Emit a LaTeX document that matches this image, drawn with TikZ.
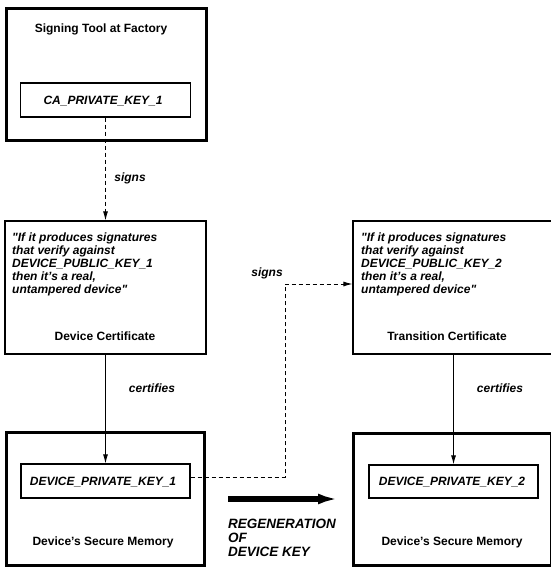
\documentclass[tikz,border=0pt]{standalone}
\usepackage{fontspec}
\setmainfont{Liberation Sans}
\usepackage{tikz}
\usetikzlibrary{arrows.meta}
\tikzset{
  heavybox/.style={draw, line width=3pt, inner sep=0pt},
  lightbox/.style={draw, line width=1.1pt, inner sep=0pt},
  boxtitle/.style={font=\fontsize{12}{12.8}\selectfont\bfseries, inner sep=0pt},
  keyname/.style={font=\fontsize{12}{12.8}\selectfont\bfseries\itshape, inner sep=0pt},
  claim/.style={font=\fontsize{12}{12.8}\selectfont\bfseries\itshape, align=left, anchor=north west, inner sep=0pt},
  linklabel/.style={font=\fontsize{12}{12.8}\selectfont\bfseries\itshape, inner sep=0pt},
  solidlink/.style={line width=1pt, -{Latex[length=9pt,width=5pt]}},
  dashlink/.style={line width=1pt, dash pattern=on 4pt off 3pt, -{Latex[length=9pt,width=5pt]}},
  regenlink/.style={line width=5.5pt, -{Latex[length=20pt,width=11pt]}}
}
\begin{document}
\begin{tikzpicture}[x=1pt,y=-1pt]
\useasboundingbox (0,0) rectangle (550,569);
%%% Draws left column
% draws boxes
\node[heavybox, minimum width=200pt, minimum height=132pt] (factory) at (106.5,74.5){};
\node[lightbox, minimum width=170pt, minimum height=34pt] (cakey) at (105.5,100){};
\node[lightbox, minimum width=201pt, minimum height=133pt] (devcert) at (105.5,287.5){};
\node[heavybox, minimum width=198pt, minimum height=133pt] (devmem) at (105.5,499){};
\node[lightbox, minimum width=169pt, minimum height=34pt] (devkey1) at (105.5,481){};
% labels boxes
\node[boxtitle] (factorytitle) at (101,29) {Signing Tool at Factory};
\node[keyname] (catext) at (103,101) {CA\_PRIVATE\_KEY\_1};
\node[claim] (claim1) at (12,233) {\textquotedbl If it produces signatures\\that verify against\\DEVICE\_PUBLIC\_KEY\_1\\then it's a real,\\untampered device\textquotedbl};
\node[boxtitle] (devcerttitle) at (105,336) {Device Certificate};
\node[keyname] (key1text) at (103,482) {DEVICE\_PRIVATE\_KEY\_1};
\node[boxtitle] (devmemtitle) at (103,542) {Device's Secure Memory};
%%% Draws right column
% draws boxes
\node[lightbox, minimum width=201pt, minimum height=133pt] (transcert) at (453.5,287.5){};
\node[heavybox, minimum width=198pt, minimum height=132pt] (transmem) at (452.5,499.5){};
\node[lightbox, minimum width=169pt, minimum height=33pt] (devkey2) at (453.5,481.5){};
% labels boxes
\node[claim] (claim2) at (361,233) {\textquotedbl If it produces signatures\\that verify against\\DEVICE\_PUBLIC\_KEY\_2\\then it's a real,\\untampered device\textquotedbl};
\node[boxtitle] (transtitle) at (447,336) {Transition Certificate};
\node[keyname] (key2text) at (452,482) {DEVICE\_PRIVATE\_KEY\_2};
\node[boxtitle] (transmemtitle) at (452,542) {Device's Secure Memory};
%%% Draws links
\coordinate (bend) at (285,284);
\coordinate (regenstart) at (228,499);
\coordinate (regenend) at (338,499);
\draw[dashlink] (cakey.south) -- (devcert.north);
\draw[solidlink] (devcert.south) -- (devkey1.north);
\draw[solidlink] (transcert.south) -- (devkey2.north);
\draw[dashlink] ([yshift=4pt]devkey1.east) -| (bend) -- (bend -| transcert.west);
\draw[regenlink] (regenstart) -- (regenend);
% labels links
\node[linklabel] (signs1) at (130,178) {signs};
\node[linklabel] (certifies1) at (152,388) {certifies};
\node[linklabel] (signs2) at (267,273) {signs};
\node[linklabel] (certifies2) at (500,388) {certifies};
\node[font=\fontsize{13.5}{13.8}\selectfont\bfseries\itshape, align=left, anchor=north west, inner sep=0pt] (regentext) at (228,519) {REGENERATION\\OF\\DEVICE KEY};
\end{tikzpicture}
\end{document}
